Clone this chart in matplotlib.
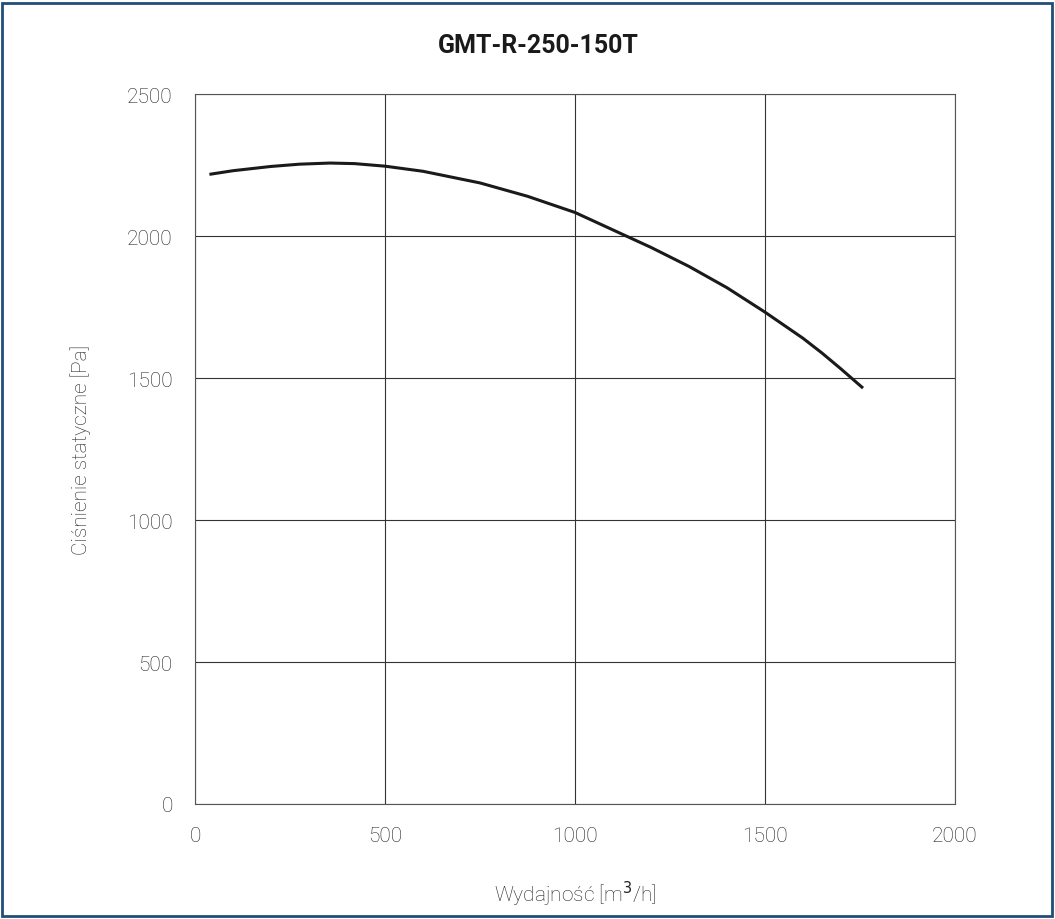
import matplotlib.pyplot as plt
from matplotlib.patches import Rectangle

# values
flow = [42, 100, 200, 275, 355, 420, 500, 600, 750, 875, 1000, 1130,
        1200, 1300, 1400, 1500, 1600, 1650, 1700, 1755]
pressure = [2218, 2230, 2245, 2253, 2257, 2255, 2246, 2228, 2187, 2140, 2083, 2003,
            1960, 1893, 1818, 1732, 1640, 1588, 1532, 1468]

x_ticks = [0, 500, 1000, 1500, 2000]
y_ticks = [0, 500, 1000, 1500, 2000, 2500]

plt.rcParams['font.family'] = ['Roboto', 'DejaVu Sans']

fig = plt.figure(figsize=(10.55, 9.2), dpi=100)
ax = fig.add_axes([0.1848, 0.125, 0.7204, 0.7717])

ax.plot(flow, pressure, color='#1a1a1a', linewidth=2.2)

ax.set_xlim(0, 2000)
ax.set_ylim(0, 2500)
ax.set_xticks(x_ticks)
ax.set_yticks(y_ticks)
ax.grid(True, color='#333333', linewidth=0.8)
ax.tick_params(length=0, labelsize=15, colors='#222222', pad=16)
for lbl in ax.get_xticklabels() + ax.get_yticklabels():
    lbl.set_fontweight('light')
for s in ax.spines.values():
    s.set_color('#555555')
    s.set_linewidth(0.8)

ax.set_xlabel('Wydajność [m$^3$/h]', fontsize=15, color='#222222', labelpad=24,
              fontweight='light')
ax.set_ylabel('Ciśnienie statyczne [Pa]', fontsize=15, color='#222222', labelpad=26,
              fontweight='light')
fig.text(0.51, 0.95, 'GMT-R-250-150T', ha='center', va='center',
         fontsize=18, fontweight='bold', color='#1a1a1a')

fig.add_artist(Rectangle((0.002, 0.003), 0.995, 0.993, transform=fig.transFigure,
                         fill=False, edgecolor='#1f4e79', linewidth=2))

fig.savefig('out.png', dpi=100)
